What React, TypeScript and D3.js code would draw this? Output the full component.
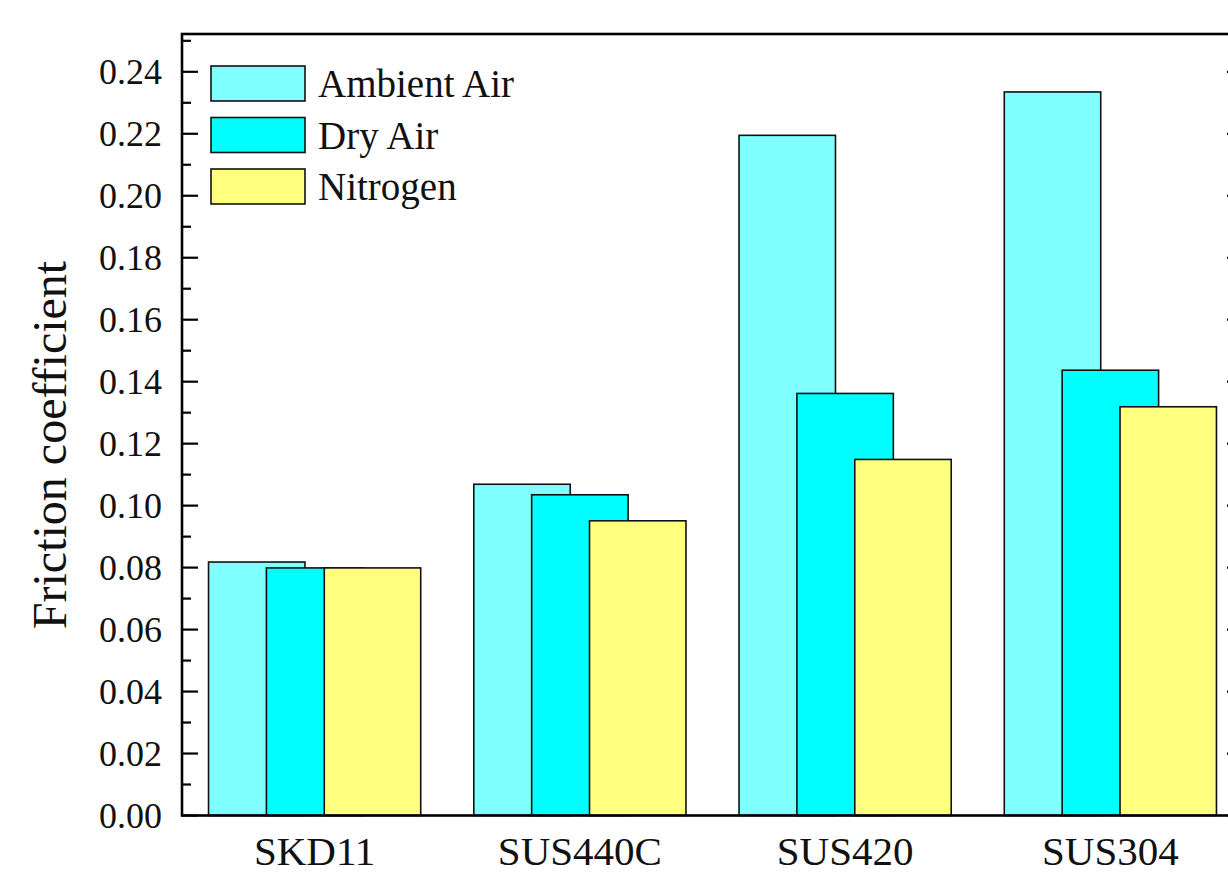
import React, { useEffect, useRef } from "react";
import * as d3 from "d3";

// Materials on the x axis
const materials = ["SKD11", "SUS440C", "SUS420", "SUS304"];
// Test atmospheres (legend order)
const atmospheres = ["Ambient Air", "Dry Air", "Nitrogen"];
const colors = ["#80FFFF", "#00FFFF", "#FFFF80"];

// Friction coefficient per atmosphere, one value per material
const ambientAir = [0.0818, 0.1069, 0.2195, 0.2335];
const dryAir = [0.0799, 0.1035, 0.1362, 0.1437];
const nitrogen = [0.0799, 0.0951, 0.1149, 0.1319];

const yTicks = [0, 0.02, 0.04, 0.06, 0.08, 0.1, 0.12, 0.14, 0.16, 0.18, 0.2, 0.22, 0.24];

const App = () => {
  const svgRef = useRef<SVGSVGElement>(null);

  useEffect(() => {
    const width = 1228;
    const height = 876;
    const left = 182;
    const right = 1243; // right frame sits just off the picture
    const top = 34;
    const bottom = 815.5;
    const font = "'Liberation Serif', 'Times New Roman', serif";

    const svg = d3.select(svgRef.current);
    svg.selectAll("*").remove();
    svg.attr("width", width).attr("height", height);

    const series = [ambientAir, dryAir, nitrogen];

    const x = d3.scaleBand<string>().domain(materials).range([left, right]).padding(0);
    const y = d3.scaleLinear().domain([0, 0.2522]).range([bottom, top]);

    const step = x.step();
    const barW = step * 0.3636;
    const shift = barW * 0.6; // overlapping bars
    const groupW = barW + shift * 2;

    // bars (drawn in order so later series overlap earlier ones)
    series.forEach((vals, si) => {
      svg
        .append("g")
        .selectAll("rect")
        .data(vals)
        .join("rect")
        .attr("x", (d, i) => x(materials[i])! + step / 2 - groupW / 2 + si * shift)
        .attr("y", (d) => y(d))
        .attr("width", barW)
        .attr("height", (d) => y(0) - y(d))
        .attr("fill", colors[si])
        .attr("stroke", "#111")
        .attr("stroke-width", 1.6);
    });

    // frame
    svg
      .append("rect")
      .attr("x", left)
      .attr("y", top)
      .attr("width", right - left)
      .attr("height", bottom - top)
      .attr("fill", "none")
      .attr("stroke", "#000")
      .attr("stroke-width", 2.6);

    // ticks on left and right axes (pointing inward)
    const minor = d3.range(0.01, 0.252, 0.02);
    [left, right].forEach((ax) => {
      const dir = ax === left ? 1 : -1;
      svg
        .append("g")
        .selectAll("line.major")
        .data(yTicks)
        .join("line")
        .attr("x1", ax)
        .attr("x2", ax + dir * 16)
        .attr("y1", (d) => y(d))
        .attr("y2", (d) => y(d))
        .attr("stroke", "#000")
        .attr("stroke-width", 2.2);
      svg
        .append("g")
        .selectAll("line.minor")
        .data(minor)
        .join("line")
        .attr("x1", ax)
        .attr("x2", ax + dir * 9)
        .attr("y1", (d) => y(d))
        .attr("y2", (d) => y(d))
        .attr("stroke", "#000")
        .attr("stroke-width", 2.2);
    });

    // y tick labels
    svg
      .append("g")
      .selectAll("text")
      .data(yTicks)
      .join("text")
      .attr("x", 162)
      .attr("y", (d) => y(d) + 12)
      .attr("text-anchor", "end")
      .attr("font-family", font)
      .attr("font-size", 36)
      .attr("fill", "#111")
      .text((d) => d3.format(".2f")(d));

    // category labels
    svg
      .append("g")
      .selectAll("text")
      .data(materials)
      .join("text")
      .attr("x", (d) => x(d)! + step / 2)
      .attr("y", 865)
      .attr("text-anchor", "middle")
      .attr("font-family", font)
      .attr("font-size", 41)
      .attr("fill", "#111")
      .text((d) => d);

    // y axis title
    svg
      .append("text")
      .attr("transform", "translate(66, 445) rotate(-90)")
      .attr("text-anchor", "middle")
      .attr("font-family", font)
      .attr("font-size", 48)
      .attr("fill", "#111")
      .text("Friction coefficient");

    // legend
    const legend = svg.append("g");
    atmospheres.forEach((name, i) => {
      const ly = 66 + i * 51.5;
      legend
        .append("rect")
        .attr("x", 211)
        .attr("y", ly)
        .attr("width", 94)
        .attr("height", 35)
        .attr("fill", colors[i])
        .attr("stroke", "#111")
        .attr("stroke-width", 1.6);
      legend
        .append("text")
        .attr("x", 318)
        .attr("y", ly + 31)
        .attr("font-family", font)
        .attr("font-size", 39)
        .attr("fill", "#111")
        .text(name);
    });
  }, []);

  return (
    <div style={{ position: "fixed", left: 0, top: 0, background: "#fff" }}>
      <svg ref={svgRef} style={{ display: "block" }}></svg>
    </div>
  );
};

export default App;
